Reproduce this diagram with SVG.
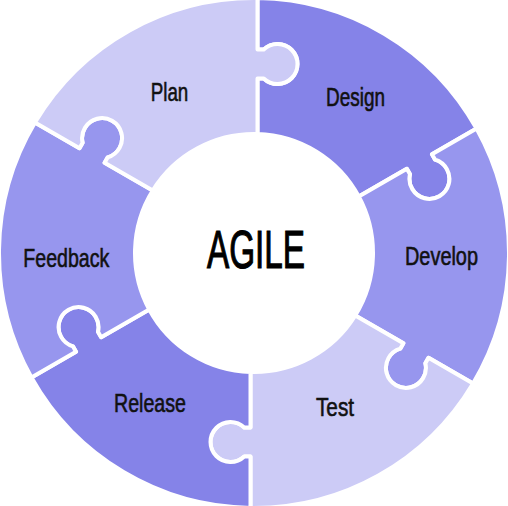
<svg xmlns="http://www.w3.org/2000/svg" xmlns:xlink="http://www.w3.org/1999/xlink" width="508" height="506" viewBox="0 0 508 506">
<style>
.piece{stroke:#ffffff;stroke-width:4;stroke-linejoin:round}
.dark{fill:#8583e8}
.mid{fill:#9796ee}
.light{fill:#cccbf6}
.lbl{font-family:"Liberation Sans",Arial,sans-serif;font-size:26px;fill:#111111;stroke:#111111;stroke-width:0.6}
.title{font-family:"Liberation Sans",Arial,sans-serif;font-size:53px;fill:#000000;stroke:#000000;stroke-width:1.2}
</style>
<defs>
<path id="piece" d="M 3.5,-118.95 L 3.5,-174.5 L 9.72,-174.5 A 20 20 0 1 0 9.72,-203.5 L 3.5,-203.5 L 3.5,-254.98 A 255 255 0 0 1 222.56,-124.46 L 177.99,-98.72 L 181.10,-93.33 A 20 20 0 1 1 155.98,-78.83 L 152.87,-84.22 L 104.76,-56.44 A 119 119 0 0 0 3.5,-118.95 Z"/>
</defs>
<rect width="508" height="506" fill="#ffffff"/>
<g id="ring" transform="translate(254,253)">
<g id="design"><use xlink:href="#piece" class="piece dark" transform="rotate(0)"/></g>
<g id="develop"><use xlink:href="#piece" class="piece mid" transform="rotate(60)"/></g>
<g id="test"><use xlink:href="#piece" class="piece light" transform="rotate(120)"/></g>
<g id="release"><use xlink:href="#piece" class="piece dark" transform="rotate(180)"/></g>
<g id="feedback"><use xlink:href="#piece" class="piece mid" transform="rotate(240)"/></g>
<g id="plan"><use xlink:href="#piece" class="piece light" transform="rotate(300)"/></g>
</g>
<g id="connectors"/>
<g id="labels">
<text class="lbl" x="150.7" y="100.7" textLength="37.6" lengthAdjust="spacingAndGlyphs">Plan</text>
<text class="lbl" x="326" y="106" textLength="59" lengthAdjust="spacingAndGlyphs">Design</text>
<text class="lbl" x="405" y="265" textLength="73" lengthAdjust="spacingAndGlyphs">Develop</text>
<text class="lbl" x="316" y="416" textLength="38" lengthAdjust="spacingAndGlyphs">Test</text>
<text class="lbl" x="114" y="412" textLength="72" lengthAdjust="spacingAndGlyphs">Release</text>
<text class="lbl" x="23.3" y="267.3" textLength="86" lengthAdjust="spacingAndGlyphs">Feedback</text>
</g>
<g id="center">
<text class="title" x="207" y="268" textLength="98" lengthAdjust="spacingAndGlyphs">AGILE</text>
</g>
</svg>
